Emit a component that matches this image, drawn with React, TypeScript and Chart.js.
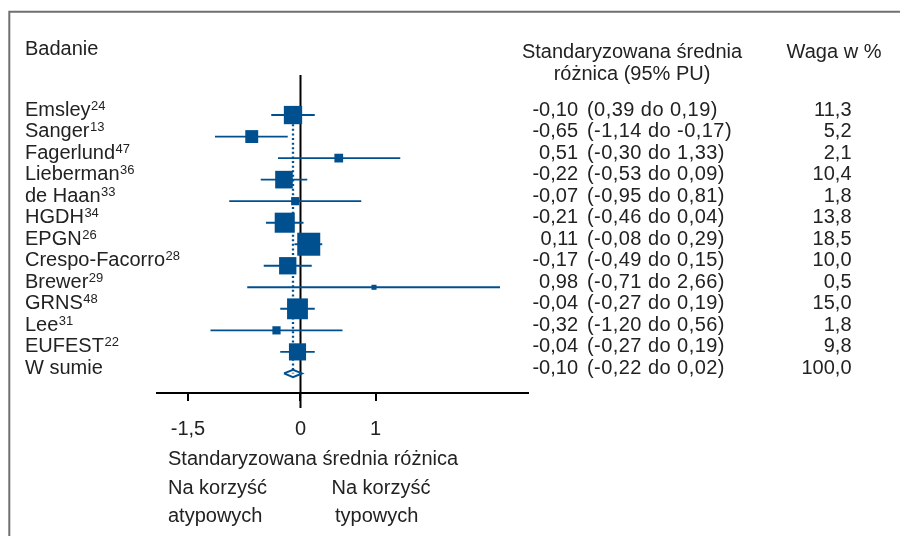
import React, { useEffect, useRef } from 'react';
import { Chart, registerables } from 'chart.js';

Chart.register(...registerables);

// ---- data ----
const studies = ['Emsley', 'Sanger', 'Fagerlund', 'Lieberman', 'de Haan', 'HGDH', 'EPGN', 'Crespo-Facorro', 'Brewer', 'GRNS', 'Lee', 'EUFEST'];
const refs = ['24', '13', '47', '36', '33', '34', '26', '28', '29', '48', '31', '22'];
const smd = [-0.10, -0.65, 0.51, -0.22, -0.07, -0.21, 0.11, -0.17, 0.98, -0.04, -0.32, -0.04];
const ciLow = [-0.39, -1.14, -0.30, -0.53, -0.95, -0.46, -0.08, -0.49, -0.71, -0.27, -1.20, -0.27];
const ciHigh = [0.19, -0.17, 1.33, 0.09, 0.81, 0.04, 0.29, 0.15, 2.66, 0.19, 0.56, 0.19];
const ciText = ['(0,39 do 0,19)', '(-1,14 do -0,17)', '(-0,30 do 1,33)', '(-0,53 do 0,09)', '(-0,95 do 0,81)', '(-0,46 do 0,04)', '(-0,08 do 0,29)', '(-0,49 do 0,15)', '(-0,71 do 2,66)', '(-0,27 do 0,19)', '(-1,20 do 0,56)', '(-0,27 do 0,19)'];
const weights = [11.3, 5.2, 2.1, 10.4, 1.8, 13.8, 18.5, 10.0, 0.5, 15.0, 1.8, 9.8];
const pooledLabel = 'W sumie';
const pooledEst = -0.10;
const pooledLow = -0.22;
const pooledHigh = 0.02;
const pooledWeight = 100.0;
const xTicks = [-1.5, 0, 1];

const BLUE = '#00508f';
const TEXT = '#222222';
const FONT = '"Liberation Sans", Arial, Helvetica, sans-serif';
const MAIN = `20px ${FONT}`;
const SUP = `13px ${FONT}`;

const fmt = (v: number, d: number) => v.toFixed(d).replace('.', ',');

export default function App() {
  const ref = useRef<HTMLCanvasElement>(null);

  useEffect(() => {
    const canvas = ref.current;
    if (!canvas) return;
    const n = studies.length;

    const datasets: any[] = [];
    // squares
    datasets.push({
      data: smd.map((v, i) => ({ x: v, y: i })),
      showLine: false,
      pointStyle: 'rect',
      pointRadius: weights.map((w) => (1.5 + 5 * Math.sqrt(w)) / Math.SQRT2),
      pointBackgroundColor: BLUE,
      pointBorderWidth: 0,
      order: 0,
    });
    // whiskers
    studies.forEach((_, i) => {
      datasets.push({
        data: [{ x: ciLow[i], y: i }, { x: ciHigh[i], y: i }],
        borderColor: BLUE,
        borderWidth: 1.9,
        pointRadius: 0,
        order: 1,
      });
    });
    // pooled diamond
    const h = 0.17;
    datasets.push({
      data: [
        { x: pooledLow, y: n },
        { x: pooledEst, y: n - h },
        { x: pooledHigh, y: n },
        { x: pooledEst, y: n + h },
        { x: pooledLow, y: n },
      ],
      borderColor: BLUE,
      borderWidth: 2,
      pointRadius: 0,
      fill: false,
      order: 1,
    });
    // dotted pooled line
    datasets.push({
      data: [{ x: pooledEst, y: 0 }, { x: pooledEst, y: n }],
      borderColor: BLUE,
      borderWidth: 2.3,
      borderDash: [2, 2.6],
      pointRadius: 0,
      order: 2,
    });
    // zero line
    datasets.push({
      data: [{ x: 0, y: -1.86 }, { x: 0, y: 13.61 }],
      borderColor: '#000',
      borderWidth: 2,
      pointRadius: 0,
      clip: false,
      order: 3,
    });

    const textPlugin = {
      id: 'forestTexts',
      beforeDraw(chart: any) {
        const ctx = chart.ctx;
        ctx.save();
        ctx.fillStyle = '#fff';
        ctx.fillRect(0, 0, chart.width, chart.height);
        ctx.strokeStyle = '#707070';
        ctx.lineWidth = 2;
        ctx.beginPath();
        ctx.moveTo(9.3, chart.height);
        ctx.lineTo(9.3, 11.8);
        ctx.lineTo(chart.width, 11.8);
        ctx.stroke();
        ctx.restore();
      },
      afterDraw(chart: any) {
        const ctx = chart.ctx;
        const ys = chart.scales.y;
        ctx.save();
        ctx.fillStyle = TEXT;
        ctx.textBaseline = 'alphabetic';
        ctx.font = MAIN;
        ctx.textAlign = 'left';
        ctx.fillText('Badanie', 25, 54.5);
        ctx.textAlign = 'center';
        ctx.fillText('Standaryzowana średnia', 632, 58);
        ctx.fillText('różnica (95% PU)', 632, 79.5);
        ctx.fillText('Waga w %', 834, 58);

        const row = (label: string, sup: string, est: number, ci: string, w: number, i: number) => {
          const py = ys.getPixelForValue(i) + 0.5;
          ctx.font = MAIN;
          ctx.textAlign = 'left';
          ctx.fillText(label, 25, py);
          if (sup) {
            const tw = ctx.measureText(label).width;
            ctx.font = SUP;
            ctx.fillText(sup, 25 + tw + 0.5, py - 6);
            ctx.font = MAIN;
          }
          ctx.textAlign = 'right';
          ctx.fillText(fmt(est, 2), 578, py);
          ctx.textAlign = 'left';
          (ctx as any).letterSpacing = '0.45px';
          ctx.fillText(ci, 587, py);
          (ctx as any).letterSpacing = '0px';
          ctx.textAlign = 'right';
          ctx.fillText(fmt(w, 1), 851.5, py);
        };
        studies.forEach((s, i) => row(s, refs[i], smd[i], ciText[i], weights[i], i));
        row(pooledLabel, '', pooledEst, `(${fmt(pooledLow, 2)} do ${fmt(pooledHigh, 2)})`, pooledWeight, n);

        ctx.font = MAIN;
        ctx.textAlign = 'left';
        ctx.fillText('Standaryzowana średnia różnica', 168, 465);
        ctx.fillText('Na korzyść', 168, 494);
        ctx.fillText('Na korzyść', 331.5, 494);
        ctx.fillText('atypowych', 168, 522);
        ctx.fillText('typowych', 335, 522);
        ctx.restore();
      },
    };

    const chart = new Chart(canvas, {
      type: 'line',
      data: { datasets },
      options: {
        animation: false,
        responsive: false,
        devicePixelRatio: 1,
        layout: { padding: { left: 157, right: 372, top: 75, bottom: 98 } },
        plugins: { legend: { display: false }, tooltip: { enabled: false } },
        elements: { line: { tension: 0 } },
        scales: {
          x: {
            type: 'linear',
            min: -1.913,
            max: 3.033,
            afterFit: (s: any) => { s.height = 45; },
            afterBuildTicks: (s: any) => { s.ticks = xTicks.map((v) => ({ value: v })); },
            grid: { display: true, drawOnChartArea: false, drawTicks: true, tickLength: 8, color: '#000', lineWidth: 2 },
            border: { display: true, color: '#000', width: 2 },
            ticks: {
              padding: 16,
              color: TEXT,
              font: { family: FONT, size: 20 },
              maxRotation: 0,
              autoSkip: false,
              callback: (v: any) => String(v).replace('.', ','),
            },
          },
          y: {
            type: 'linear',
            reverse: true,
            min: -1.86,
            max: 12.91,
            display: false,
          },
        },
      },
      plugins: [textPlugin],
    } as any);

    return () => chart.destroy();
  }, []);

  return (
    <div style={{ position: 'fixed', left: 0, top: 0, width: 900, height: 536, background: '#fff' }}>
      <canvas ref={ref} width={900} height={536} style={{ display: 'block', width: 900, height: 536 }} />
    </div>
  );
}
